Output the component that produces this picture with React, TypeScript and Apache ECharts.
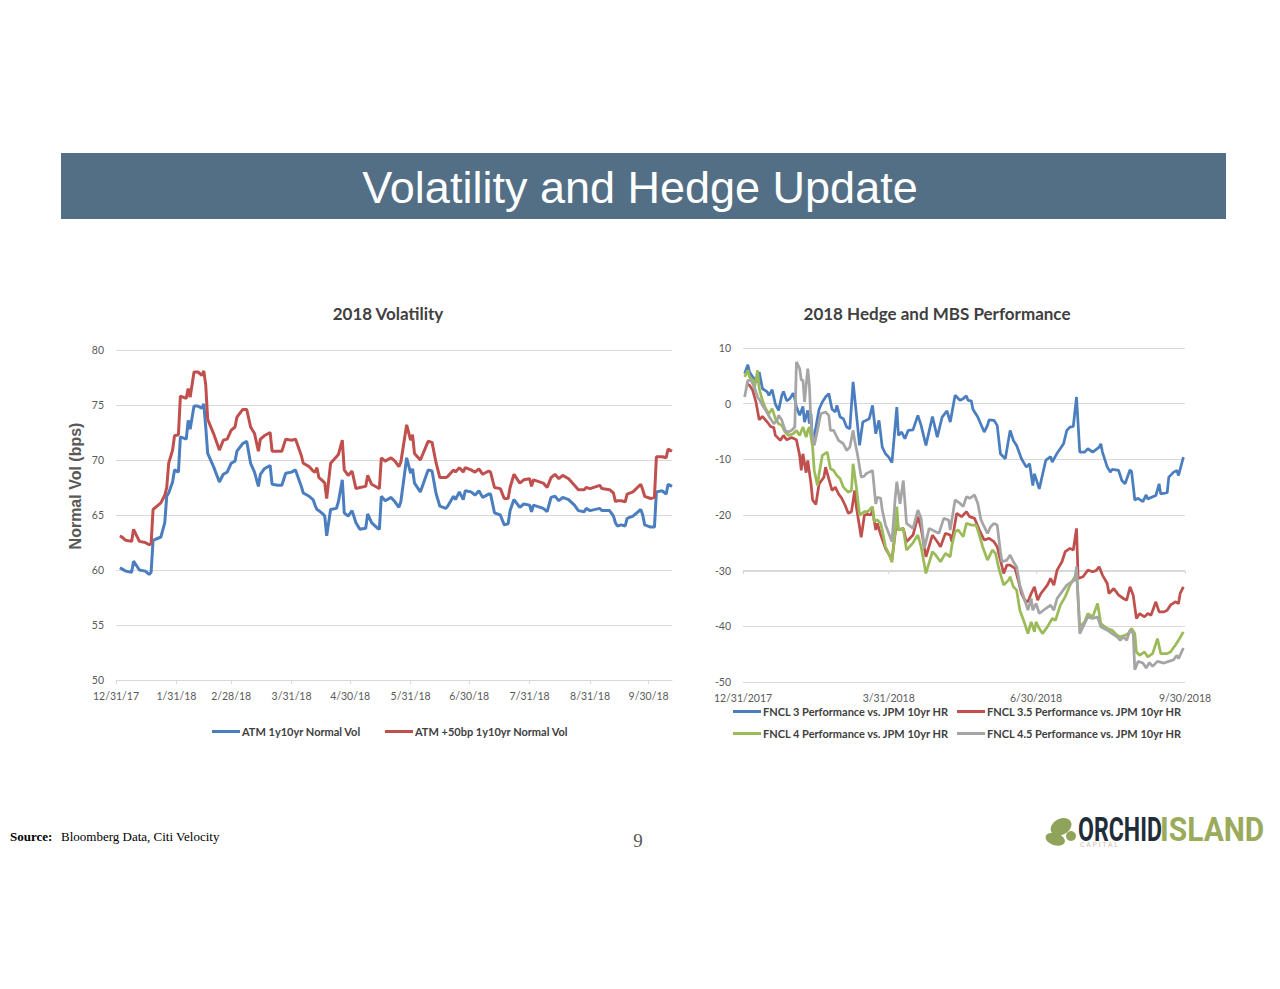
import React, { useEffect, useRef } from "react";
import * as echarts from "echarts";

// ---------- Left chart: 2018 Volatility (x = days since 12/31/2017) ----------
const volTickDays = [0, 31, 59, 90, 120, 151, 181, 212, 243, 273];
const volTickLabels = ["12/31/17", "1/31/18", "2/28/18", "3/31/18", "4/30/18", "5/31/18", "6/30/18", "7/31/18", "8/31/18", "9/30/18"];
const volDays = [
  2, 3, 5, 8, 9, 12, 15, 17, 18, 19,
  23, 25, 26, 27, 29, 30, 32, 33, 36, 37,
  38, 40, 42, 44, 45, 46, 47, 50, 53, 55,
  57, 59, 61, 62, 65, 67, 69, 71, 73, 74,
  76, 79, 80, 83, 85, 87, 90, 92, 95, 96,
  99, 101, 102, 103, 104, 106, 107, 108, 110, 113,
  114, 116, 117, 119, 121, 123, 125, 128, 129, 131,
  134, 135, 136, 138, 141, 143, 145, 146, 149, 151,
  152, 153, 156, 160, 162, 164, 166, 169, 170, 173,
  174, 176, 178, 179, 182, 184, 186, 188, 191, 192,
  194, 197, 199, 201, 202, 204, 207, 209, 212, 213,
  214, 219, 221, 223, 225, 227, 229, 232, 235, 237,
  240, 241, 243, 248, 249, 253, 255, 256, 257, 259,
  261, 262, 265, 269, 270, 271, 274, 276, 277, 280,
  282, 283, 285,
];
const atmVol = [
  60.2, 60.1, 59.9, 59.8, 60.8, 60.0, 59.9, 59.6, 59.8, 62.7,
  63.0, 64.3, 66.7, 67.0, 68.0, 69.1, 68.9, 72.1, 71.9, 73.6,
  72.8, 74.9, 74.9, 74.7, 75.1, 73.0, 70.6, 69.4, 68.0, 68.7,
  68.9, 69.7, 69.9, 70.8, 71.5, 71.7, 69.7, 68.9, 67.6, 68.7,
  69.2, 69.5, 67.8, 67.7, 67.7, 68.8, 68.9, 69.1, 67.6, 67.0,
  66.7, 66.4, 65.9, 65.5, 65.4, 65.1, 64.9, 63.1, 65.5, 65.6,
  66.2, 68.2, 65.2, 64.9, 65.4, 64.3, 63.7, 63.8, 65.1, 64.3,
  63.8, 63.7, 66.7, 66.3, 66.6, 66.2, 65.7, 66.2, 70.2, 68.8,
  69.2, 67.9, 67.1, 69.1, 69.0, 67.0, 65.8, 65.6, 65.8, 66.7,
  66.4, 67.1, 66.4, 67.2, 67.1, 66.8, 67.2, 66.6, 66.9, 66.9,
  65.2, 65.0, 64.1, 64.2, 65.4, 66.4, 65.7, 66.0, 65.9, 65.3,
  65.9, 65.6, 65.3, 66.6, 66.7, 66.3, 66.6, 66.4, 65.9, 65.4,
  65.3, 65.6, 65.4, 65.6, 65.4, 65.4, 64.9, 64.3, 64.0, 64.1,
  64.0, 64.7, 64.9, 65.5, 65.0, 64.1, 63.9, 63.9, 67.1, 67.2,
  66.9, 67.8, 67.6,
];
const atm50Vol = [
  63.1, 63.0, 62.7, 62.6, 63.7, 62.6, 62.5, 62.3, 62.4, 65.5,
  66.1, 66.8, 67.5, 69.7, 70.9, 72.2, 72.3, 75.8, 75.6, 76.5,
  75.7, 78.0, 78.0, 77.7, 78.1, 76.8, 73.7, 72.4, 70.9, 71.8,
  71.9, 72.7, 73.0, 73.9, 74.6, 74.6, 73.0, 72.4, 70.8, 71.9,
  72.2, 72.5, 70.8, 70.8, 70.8, 71.9, 71.8, 71.9, 70.4, 69.7,
  69.4, 69.0, 68.9, 69.3, 68.4, 68.1, 67.9, 66.5, 69.7, 70.3,
  70.5, 71.8, 69.1, 68.6, 69.0, 67.4, 67.5, 67.6, 68.6, 67.8,
  67.5, 67.4, 70.2, 69.9, 70.2, 69.9, 69.4, 69.8, 73.2, 71.8,
  72.3, 70.6, 70.0, 71.7, 71.6, 69.8, 68.4, 68.4, 68.5, 69.1,
  68.9, 69.3, 68.9, 69.3, 69.1, 68.9, 69.2, 68.7, 69.0, 68.9,
  67.5, 67.4, 66.5, 66.5, 67.5, 68.7, 67.9, 68.2, 68.3, 67.6,
  68.2, 67.9, 67.5, 68.4, 68.7, 68.3, 68.6, 68.3, 67.7, 67.3,
  67.3, 67.5, 67.4, 67.7, 67.4, 67.3, 67.0, 66.2, 66.3, 66.3,
  66.2, 66.9, 67.1, 67.8, 67.3, 66.7, 66.5, 66.6, 70.3, 70.3,
  70.2, 71.0, 70.8,
];

// ---------- Right chart: 2018 Hedge and MBS Performance ([day, value]) ----------
const perfTickDays = [0, 90, 181, 273];
const perfTickLabels = ["12/31/2017", "3/31/2018", "6/30/2018", "9/30/2018"];
const fncl3 = [
  [1, 5.4], [3, 7.0], [4, 5.7], [6, 4.8], [9, 3.9], [10, 5.7], [12, 2.7], [15, 2.1], [16, 1.5], [18, 2.5],
  [20, -0.1], [22, -1.2], [24, 1.5], [25, 2.2], [27, 0.5], [29, 0.9], [31, 1.9], [32, 0.9], [33, -0.6], [35, -2.1],
  [37, -0.5], [38, -3.3], [40, -1.2], [41, -3.6], [42, -1.8], [43, -7.5], [47, -1.0], [49, 0.3], [51, 1.2], [53, 1.8],
  [55, -1.0], [57, -1.5], [58, -0.3], [60, -2.4], [62, -2.7], [64, -4.2], [66, -4.5], [68, 3.9], [70, -1.8], [72, -7.5],
  [74, -3.3], [76, -3.0], [78, -2.7], [80, -0.3], [82, -5.4], [84, -3.0], [86, -7.8], [88, -9.0], [90, -9.6], [92, -10.6],
  [95, -0.6], [96, -5.7], [98, -5.1], [100, -6.3], [102, -4.8], [105, -4.7], [108, -2.1], [110, -3.9], [113, -7.5], [117, -2.3],
  [120, -6.0], [123, -2.4], [126, -1.3], [128, -3.3], [131, 1.5], [134, 0.6], [136, 0.9], [138, 1.4], [139, 0.6], [141, 0.5],
  [142, -1.0], [145, -2.4], [149, -5.1], [151, -3.9], [152, -2.9], [155, -3.0], [157, -3.9], [159, -9.0], [162, -9.9], [165, -4.8],
  [167, -6.6], [169, -7.5], [172, -9.9], [175, -11.4], [177, -10.8], [179, -14.7], [180, -12.6], [183, -15.3], [187, -10.2], [190, -9.5],
  [191, -10.5], [194, -8.9], [198, -7.2], [200, -4.8], [202, -4.2], [204, -4.1], [206, 1.2], [208, -8.7], [211, -8.7], [213, -8.1],
  [216, -8.7], [220, -7.8], [221, -7.2], [222, -8.7], [225, -11.4], [227, -12.3], [228, -11.8], [232, -12.0], [234, -13.8], [236, -14.4],
  [239, -11.9], [240, -12.2], [242, -17.3], [244, -17.0], [247, -17.6], [249, -16.4], [250, -17.1], [255, -16.5], [257, -14.4], [258, -16.2],
  [262, -16.0], [263, -13.2], [266, -12.3], [268, -12.0], [269, -12.9], [272, -9.6],
];
const fncl35 = [
  [2, 3.7], [4, 3.3], [6, 2.4], [8, 0.3], [10, -2.9], [12, -2.3], [15, -3.3], [17, -4.1], [19, -4.3], [20, -5.7],
  [23, -6.6], [25, -5.7], [27, -6.5], [30, -6.1], [33, -6.5], [35, -9.3], [36, -12.0], [37, -9.0], [39, -12.4], [40, -10.2],
  [42, -14.4], [43, -17.3], [45, -18.1], [47, -14.4], [50, -13.2], [51, -11.4], [53, -13.5], [55, -15.6], [57, -15.0], [59, -16.2],
  [61, -17.0], [63, -18.2], [65, -19.7], [67, -19.4], [69, -15.6], [70, -18.5], [73, -24.0], [75, -20.0], [77, -19.9], [79, -20.0],
  [80, -19.1], [82, -22.7], [83, -21.5], [85, -23.5], [88, -26.0], [92, -28.0], [95, -20.9], [96, -22.7], [99, -22.4], [101, -24.8],
  [105, -23.6], [108, -20.3], [110, -22.4], [113, -27.5], [117, -23.6], [120, -24.8], [122, -25.7], [125, -23.3], [128, -23.6], [129, -24.8],
  [132, -19.7], [135, -20.3], [138, -19.4], [140, -20.3], [143, -20.6], [146, -22.7], [149, -24.5], [152, -24.2], [155, -24.8], [157, -25.7],
  [159, -28.1], [161, -30.5], [163, -29.0], [165, -29.0], [168, -29.6], [170, -31.7], [172, -34.1], [174, -35.3], [176, -35.6], [178, -34.1],
  [180, -32.9], [182, -35.3], [184, -34.1], [188, -32.6], [190, -31.4], [192, -32.6], [194, -29.9], [197, -28.4], [199, -26.6], [202, -26.0],
  [204, -26.3], [206, -22.4], [207, -31.4], [210, -31.1], [213, -29.9], [216, -30.2], [218, -30.0], [220, -29.3], [222, -30.8], [225, -32.3],
  [226, -34.1], [229, -33.2], [232, -34.4], [235, -35.0], [237, -35.3], [239, -32.9], [241, -34.4], [243, -38.6], [245, -37.7], [248, -38.3],
  [250, -37.7], [252, -38.0], [255, -35.6], [257, -37.4], [260, -37.4], [262, -37.1], [264, -36.2], [267, -35.6], [269, -35.9], [270, -34.1],
  [272, -32.9],
];
const fncl4 = [
  [1, 4.8], [3, 6.0], [4, 4.8], [6, 4.2], [7, 2.7], [9, 6.0], [10, 2.7], [12, 0.6], [14, -0.9], [16, -1.8],
  [18, -0.9], [20, -2.7], [22, -3.6], [24, -3.9], [26, -5.1], [28, -5.7], [31, -5.4], [33, -4.8], [35, -5.7], [37, -4.2],
  [39, -6.0], [40, -4.8], [41, -4.2], [43, -7.8], [44, -12.0], [46, -14.7], [47, -12.6], [49, -9.3], [52, -8.7], [54, -11.7],
  [56, -12.0], [58, -12.9], [60, -13.5], [62, -15.0], [65, -15.9], [67, -15.6], [68, -10.8], [70, -15.0], [72, -20.0], [75, -19.4],
  [77, -19.4], [80, -18.5], [81, -21.2], [83, -20.9], [85, -21.5], [86, -22.7], [88, -25.7], [90, -26.9], [92, -28.5], [94, -23.0],
  [95, -18.5], [96, -22.7], [99, -22.4], [101, -26.3], [105, -25.0], [108, -23.6], [110, -25.7], [113, -30.5], [117, -26.6], [119, -27.2],
  [122, -28.4], [125, -26.9], [128, -27.5], [129, -25.5], [131, -23.0], [133, -22.7], [136, -23.9], [138, -21.5], [141, -21.8], [144, -21.8],
  [146, -23.6], [148, -25.7], [151, -28.1], [154, -26.3], [156, -26.9], [158, -29.6], [161, -32.6], [164, -31.7], [165, -31.1], [167, -32.9],
  [169, -33.5], [171, -37.1], [174, -39.5], [176, -41.3], [178, -39.2], [180, -41.0], [181, -39.2], [183, -40.4], [185, -41.3], [188, -40.1],
  [191, -38.6], [193, -38.9], [196, -36.2], [199, -34.7], [202, -32.6], [205, -31.1], [206, -30.0], [208, -40.1], [211, -39.2], [213, -37.7],
  [216, -38.3], [219, -35.9], [221, -39.5], [225, -40.4], [228, -40.7], [231, -41.6], [233, -41.9], [236, -41.6], [238, -41.3], [240, -40.4],
  [242, -41.3], [243, -44.6], [245, -45.2], [248, -44.6], [250, -45.5], [253, -44.9], [256, -42.2], [258, -44.9], [262, -44.9], [264, -44.6],
  [267, -43.4], [269, -42.5], [272, -41.0],
];
const fncl45 = [
  [1, 1.2], [3, 4.2], [5, 4.2], [7, 3.0], [9, 1.2], [11, 0.3], [12, -0.3], [14, -1.2], [17, -2.7], [19, -3.6],
  [21, -3.0], [22, -2.1], [24, -3.0], [26, -4.8], [28, -5.1], [30, -4.8], [32, -4.2], [33, 7.5], [35, 6.3], [36, 4.2],
  [37, 4.3], [38, 0.3], [40, 6.3], [41, 3.3], [42, -3.6], [44, -7.5], [46, -4.8], [48, -1.8], [51, -1.5], [53, -2.1],
  [54, -4.8], [56, -4.8], [57, -5.4], [59, -6.6], [62, -7.2], [64, -8.4], [66, -7.8], [68, -4.8], [69, -6.6], [71, -9.6],
  [73, -13.2], [75, -13.0], [76, -12.6], [78, -12.3], [80, -12.0], [82, -18.0], [83, -16.8], [85, -17.0], [86, -19.1], [88, -21.8],
  [90, -23.3], [92, -24.8], [94, -17.0], [95, -14.0], [97, -18.0], [99, -13.8], [101, -21.5], [105, -22.4], [108, -19.1], [110, -20.6],
  [112, -26.0], [115, -22.4], [119, -23.0], [121, -23.3], [124, -20.6], [127, -20.9], [128, -22.7], [131, -17.3], [134, -17.9], [136, -18.5],
  [138, -16.7], [140, -17.0], [143, -16.4], [145, -17.9], [147, -20.9], [151, -23.3], [153, -22.1], [155, -21.5], [157, -21.8], [159, -26.6],
  [160, -28.4], [163, -28.1], [165, -27.2], [167, -28.4], [169, -29.3], [171, -32.6], [174, -35.3], [176, -37.1], [178, -35.0], [179, -37.1],
  [181, -35.9], [183, -37.7], [187, -36.8], [190, -36.2], [192, -37.1], [194, -35.0], [197, -33.8], [200, -32.6], [203, -32.0], [205, -31.7],
  [206, -29.3], [208, -41.3], [210, -40.1], [213, -38.3], [216, -38.6], [219, -38.3], [221, -40.1], [225, -40.7], [228, -41.3], [231, -41.9],
  [233, -42.5], [235, -41.9], [237, -42.5], [239, -40.7], [241, -41.3], [242, -47.8], [244, -46.3], [247, -46.6], [249, -47.5], [251, -46.5],
  [253, -47.2], [256, -46.3], [260, -46.6], [263, -46.3], [266, -46.0], [268, -45.2], [269, -45.8], [272, -43.9],
];

const seriesNames = {
  atm: "ATM 1y10yr Normal Vol",
  atm50: "ATM +50bp 1y10yr Normal Vol",
  f3: "FNCL 3 Performance vs. JPM 10yr HR",
  f35: "FNCL 3.5 Performance vs. JPM 10yr HR",
  f4: "FNCL 4 Performance vs. JPM 10yr HR",
  f45: "FNCL 4.5 Performance vs. JPM 10yr HR",
};

const BLUE = "#4a7ebf";
const RED = "#c0504d";
const GREEN = "#9bbb59";
const GRAY = "#a5a5a5";
const GRID = "#d9d9d9";
const LABEL = "#595959";
const FONT = "Lato";

function pairs(xs: number[], ys: number[]) {
  return xs.map((x, i) => [x, ys[i]]);
}

function lineSeries(name: string, color: string, data: number[][], axis: number, width: number) {
  return {
    name,
    type: "line",
    xAxisIndex: axis,
    yAxisIndex: axis,
    data,
    symbol: "none",
    showSymbol: false,
    lineStyle: { color, width },
    itemStyle: { color },
    emphasis: { disabled: true },
  };
}

function legendAt(name: string, left: number, top: number) {
  return {
    data: [name],
    left,
    top,
    padding: 0,
    icon: "rect",
    itemWidth: 28,
    itemHeight: 3,
    selectedMode: false,
    textStyle: { fontFamily: FONT, fontWeight: "bold", fontSize: 11, color: "#404040", padding: [0, 0, 0, -3] },
  };
}

function text(x: number, y: number, str: string, font: string, fill: string, align = "center", extra: any = {}) {
  return {
    type: "text",
    x,
    y,
    ...extra,
    style: { text: str, font, fill, align, verticalAlign: "middle", textAlign: align, textVerticalAlign: "middle" },
  };
}

export default function App() {
  const ref = useRef<HTMLDivElement>(null);

  useEffect(() => {
    if (!ref.current) return;
    const chart = echarts.init(ref.current, undefined, { renderer: "svg" });

    const axisLabel = { color: LABEL, fontSize: 10, fontFamily: FONT };

    const option: any = {
      animation: false,
      backgroundColor: "#ffffff",
      grid: [
        { left: 116, top: 350, width: 556, height: 330 },
        { left: 743, top: 348, width: 442, height: 334 },
      ],
      xAxis: [
        {
          gridIndex: 0,
          type: "value",
          min: 0,
          max: 285,
          axisLine: { show: true, lineStyle: { color: GRID, width: 1 } },
          axisTick: { show: true, customValues: volTickDays, length: 4, lineStyle: { color: GRID } },
          axisLabel: {
            ...axisLabel,
            fontSize: 10.5,
            margin: 10,
            customValues: volTickDays,
            formatter: (v: number) => volTickLabels[volTickDays.indexOf(Math.round(v))] ?? "",
          },
          splitLine: { show: false },
        },
        {
          gridIndex: 1,
          type: "value",
          min: 0,
          max: 273,
          axisLine: { show: false },
          axisTick: { show: false },
          axisLabel: {
            ...axisLabel,
            fontSize: 10.5,
            margin: 10,
            customValues: perfTickDays,
            formatter: (v: number) => perfTickLabels[perfTickDays.indexOf(Math.round(v))] ?? "",
          },
          splitLine: { show: false },
        },
        {
          gridIndex: 1,
          type: "value",
          min: 0,
          max: 273,
          position: "bottom",
          offset: -111,
          axisLine: { show: true, lineStyle: { color: GRID, width: 1 } },
          axisTick: { show: true, customValues: perfTickDays, length: 3, lineStyle: { color: GRID } },
          axisLabel: { show: false },
          splitLine: { show: false },
        },
      ],
      yAxis: [
        {
          gridIndex: 0,
          type: "value",
          min: 50,
          max: 80,
          interval: 5,
          axisLine: { show: false },
          axisTick: { show: false },
          axisLabel: { ...axisLabel, fontSize: 10.5, margin: 12 },
          splitLine: { show: true, lineStyle: { color: GRID, width: 1 } },
        },
        {
          gridIndex: 1,
          type: "value",
          min: -50,
          max: 10,
          interval: 10,
          axisLine: { show: false },
          axisTick: { show: false },
          axisLabel: { ...axisLabel, fontSize: 10.5, margin: 12 },
          splitLine: { show: true, lineStyle: { color: GRID, width: 1 } },
        },
      ],
      legend: [
        legendAt(seriesNames.atm, 212, 726),
        legendAt(seriesNames.atm50, 385, 726),
        legendAt(seriesNames.f3, 733, 706),
        legendAt(seriesNames.f35, 957, 706),
        legendAt(seriesNames.f4, 733, 728),
        legendAt(seriesNames.f45, 957, 728),
      ],
      series: [
        lineSeries(seriesNames.atm, BLUE, pairs(volDays, atmVol), 0, 3),
        lineSeries(seriesNames.atm50, RED, pairs(volDays, atm50Vol), 0, 3),
        lineSeries(seriesNames.f3, BLUE, fncl3, 1, 2.75),
        lineSeries(seriesNames.f35, RED, fncl35, 1, 2.75),
        lineSeries(seriesNames.f4, GREEN, fncl4, 1, 2.75),
        lineSeries(seriesNames.f45, GRAY, fncl45, 1, 2.75),
      ],
      graphic: {
        elements: [
          { type: "rect", shape: { x: 61, y: 153, width: 1165, height: 66 }, style: { fill: "#536f85" } },
          text(640, 187, "Volatility and Hedge Update", '45px "Liberation Sans"', "#ffffff"),
          text(388, 313, "2018 Volatility", `bold 17px ${FONT}`, "#404040"),
          text(937, 313, "2018 Hedge and MBS Performance", `bold 17px ${FONT}`, "#404040"),
          text(75, 486, "Normal Vol (bps)", 'bold 16px "Liberation Sans"', LABEL, "center", { rotation: Math.PI / 2 }),
          text(10, 836, "Source:", 'bold 13px "Liberation Serif"', "#000000", "left"),
          text(61, 836, "Bloomberg Data, Citi Velocity", '13px "Liberation Serif"', "#000000", "left"),
          text(638, 840, "9", '19px "Liberation Serif"', LABEL),
          // logo
          { type: "ellipse", shape: { cx: 1061, cy: 826, rx: 11, ry: 8 }, rotation: 0.5, originX: 1061, originY: 826, style: { fill: "#8fa35a" } },
          { type: "ellipse", shape: { cx: 1056, cy: 839, rx: 10, ry: 6 }, rotation: -0.3, originX: 1056, originY: 839, style: { fill: "#8fa35a" } },
          { type: "circle", shape: { cx: 1071, cy: 836, r: 5 }, style: { fill: "#8fa35a" } },
          text(1078, 829, "ORCHID", 'bold 34px Roboto', "#1f2d3b", "left", { scaleX: 0.68 }),
          text(1160, 829, "ISLAND", 'bold 34px Roboto', "#9aab5c", "left", { scaleX: 0.88 }),
          text(1080, 845, "C A P I T A L", '7px Roboto', "#cdbfae", "left"),
        ],
      },
    };

    chart.setOption(option);
    return () => chart.dispose();
  }, []);

  return (
    <div
      ref={ref}
      style={{ position: "fixed", left: 0, top: 0, width: 1280, height: 989, background: "#ffffff" }}
    />
  );
}
